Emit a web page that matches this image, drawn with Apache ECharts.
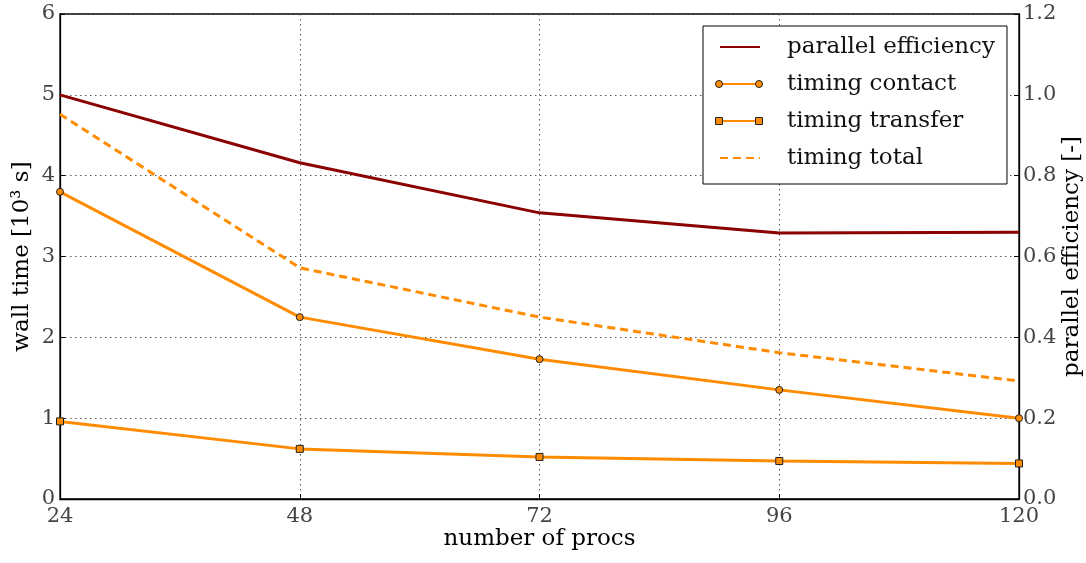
<!DOCTYPE html>
<html>
<head>
<meta charset="utf-8">
<script src="https://cdn.jsdelivr.net/npm/echarts@6/dist/echarts.min.js"></script>
<style>
  html, body { margin: 0; padding: 0; background: #fff; }
  #chart { width: 1086px; height: 563px; }
</style>
</head>
<body>
<div id="chart"></div>
<script>
// number of processes
const procs = ['24', '48', '72', '96', '120'];
// wall times in 10^3 s
const timingContact = [3.80, 2.25, 1.73, 1.35, 1.00];
const timingTransfer = [0.96, 0.62, 0.52, 0.47, 0.44];
const timingTotal = [4.76, 2.86, 2.25, 1.81, 1.46];
// parallel efficiency [-]
const parallelEfficiency = [1.00, 0.832, 0.708, 0.658, 0.660];

const FONT = '"DejaVu Serif", "Liberation Serif", serif';
const DARKRED = '#8b0000';
const ORANGE = '#ff8c00';
const EDGE = '#222';

// legend box geometry (px)
const LEG_LEFT = 703, LEG_TOP = 26;
const LEG_PAD = [8, 12, 13, 16];
const LEG_ITEM_W = 40, LEG_LINE_H = 26, LEG_GAP = 11;

const chart = echarts.init(document.getElementById('chart'), null, { renderer: 'canvas' });

const dotted = { type: [1.5, 3.5], color: '#555', width: 1 };
const hidden = { color: 'transparent', borderColor: 'transparent', borderWidth: 0 };

// end markers for the legend line samples
function legendRowY(i) {
  return LEG_TOP + LEG_PAD[0] + LEG_LINE_H / 2 + i * (LEG_LINE_H + LEG_GAP);
}
const x0 = LEG_LEFT + LEG_PAD[3], x1 = x0 + LEG_ITEM_W;
const legendMarks = [];
[x0, x1].forEach(x => {
  legendMarks.push({
    type: 'circle', z: 200,
    shape: { cx: x, cy: legendRowY(1), r: 3.5 },
    style: { fill: ORANGE, stroke: EDGE, lineWidth: 1 }
  });
  legendMarks.push({
    type: 'rect', z: 200,
    shape: { x: x - 3.5, y: legendRowY(2) - 3.5, width: 7, height: 7 },
    style: { fill: ORANGE, stroke: EDGE, lineWidth: 1 }
  });
});

chart.setOption({
  animation: false,
  textStyle: { fontFamily: FONT },
  grid: {
    left: 60, right: 67, top: 14, bottom: 64,
    outerBoundsMode: 'none',
    containLabel: false,
    show: true, borderColor: '#000', borderWidth: 1.3
  },
  legend: {
    left: LEG_LEFT, top: LEG_TOP,
    orient: 'vertical',
    align: 'left',
    backgroundColor: '#fff',
    borderColor: '#000', borderWidth: 1, borderRadius: 0,
    padding: LEG_PAD,
    itemGap: LEG_GAP,
    itemWidth: LEG_ITEM_W, itemHeight: 10,
    textStyle: {
      fontFamily: FONT, fontSize: 23, color: '#111',
      lineHeight: LEG_LINE_H, padding: [0, 0, 0, 22]
    },
    data: [
      { name: 'parallel efficiency', itemStyle: hidden },
      { name: 'timing contact', itemStyle: hidden },
      { name: 'timing transfer', itemStyle: hidden },
      { name: 'timing total', itemStyle: hidden }
    ]
  },
  graphic: legendMarks,
  xAxis: {
    type: 'category',
    data: procs,
    boundaryGap: false,
    name: 'number of procs',
    nameLocation: 'middle',
    nameMoveOverlap: false,
    nameGap: 29,
    nameTextStyle: { fontFamily: FONT, fontSize: 23, color: '#000' },
    axisLine: { lineStyle: { color: '#000', width: 1.3 } },
    axisTick: { show: true, inside: true, length: 5, lineStyle: { color: '#000' } },
    axisLabel: { fontFamily: FONT, fontSize: 21, color: '#444', margin: 7 },
    splitLine: { show: true, lineStyle: dotted }
  },
  yAxis: [
    {
      type: 'value',
      min: 0, max: 6, interval: 1,
      name: 'wall time [10³ s]',
      nameLocation: 'middle',
      nameMoveOverlap: false,
      nameGap: 26,
      nameRotate: 90,
      nameTextStyle: { fontFamily: FONT, fontSize: 23, color: '#000' },
      axisLine: { show: true, lineStyle: { color: '#000', width: 1.3 } },
      axisTick: { show: true, inside: true, length: 5, lineStyle: { color: '#000' } },
      axisLabel: { fontFamily: FONT, fontSize: 21, color: '#444', margin: 5 },
      splitLine: { show: true, lineStyle: dotted }
    },
    {
      type: 'value',
      min: 0, max: 1.2, interval: 0.2,
      name: 'parallel efficiency [-]',
      nameLocation: 'middle',
      nameMoveOverlap: false,
      nameGap: 42,
      nameRotate: 90,
      nameTextStyle: { fontFamily: FONT, fontSize: 23, color: '#000' },
      axisLine: { show: true, lineStyle: { color: '#000', width: 1.3 } },
      axisTick: { show: true, inside: true, length: 5, lineStyle: { color: '#000' } },
      axisLabel: {
        fontFamily: FONT, fontSize: 21, color: '#444', margin: 4,
        formatter: v => v.toFixed(1)
      },
      splitLine: { show: false }
    }
  ],
  series: [
    {
      name: 'parallel efficiency',
      type: 'line',
      yAxisIndex: 1,
      data: parallelEfficiency,
      symbol: 'none',
      lineStyle: { color: DARKRED, width: 3 },
      itemStyle: { color: DARKRED },
      z: 5
    },
    {
      name: 'timing contact',
      type: 'line',
      data: timingContact,
      symbol: 'circle',
      symbolSize: 7,
      lineStyle: { color: ORANGE, width: 3 },
      itemStyle: { color: ORANGE, borderColor: EDGE, borderWidth: 1 },
      z: 4
    },
    {
      name: 'timing transfer',
      type: 'line',
      data: timingTransfer,
      symbol: 'rect',
      symbolSize: 7,
      lineStyle: { color: ORANGE, width: 3 },
      itemStyle: { color: ORANGE, borderColor: EDGE, borderWidth: 1 },
      z: 4
    },
    {
      name: 'timing total',
      type: 'line',
      data: timingTotal,
      symbol: 'none',
      lineStyle: { color: ORANGE, width: 3, type: [8, 5] },
      itemStyle: { color: ORANGE },
      z: 4
    }
  ]
});
</script>
</body>
</html>
